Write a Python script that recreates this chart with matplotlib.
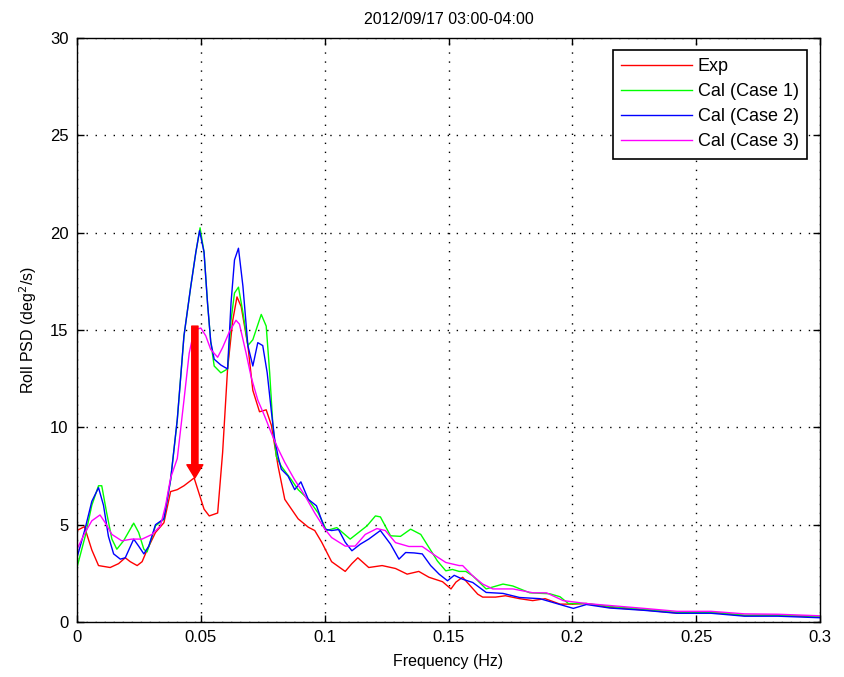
import matplotlib
matplotlib.use("Agg")
import matplotlib.pyplot as plt

# ---------------- data ----------------
f_exp = [0, 0.003, 0.006, 0.0087, 0.0134, 0.0168, 0.0195, 0.0215, 0.0243, 0.0263, 0.0283, 0.0317,
         0.0351, 0.0378, 0.0405, 0.0432, 0.0473, 0.0513, 0.0534, 0.0568, 0.0588, 0.0608, 0.0629,
         0.0646, 0.0663, 0.069, 0.071, 0.0737, 0.0764, 0.0785, 0.0812, 0.0839, 0.0893, 0.0934,
         0.096, 0.0988, 0.1028, 0.1083, 0.111, 0.1134, 0.1178, 0.1232, 0.1286, 0.1333, 0.138,
         0.1421, 0.1476, 0.151, 0.153, 0.1557, 0.1618, 0.1638, 0.169, 0.173, 0.1787, 0.184, 0.189,
         0.195, 0.2004, 0.2057, 0.215, 0.229, 0.2423, 0.256, 0.2695, 0.283, 0.3]
psd_exp = [4.7, 4.9, 3.7, 2.9, 2.8, 3.0, 3.3, 3.1, 2.9, 3.1, 3.7, 4.6,
           5.1, 6.7, 6.8, 7.0, 7.4, 5.8, 5.45, 5.6, 8.7, 13.0, 15.5,
           16.7, 16.2, 14.2, 11.9, 10.8, 10.9, 10.1, 8.0, 6.3, 5.3, 4.87,
           4.7, 4.1, 3.1, 2.6, 3.0, 3.3, 2.8, 2.9, 2.75, 2.46, 2.6,
           2.3, 2.07, 1.7, 2.05, 2.3, 1.43, 1.28, 1.28, 1.35, 1.2, 1.1, 1.2,
           0.92, 0.92, 0.95, 0.75, 0.62, 0.46, 0.5, 0.33, 0.35, 0.25]

f_c1 = [0, 0.0033, 0.006, 0.0087, 0.01, 0.012, 0.0141, 0.0161, 0.0188, 0.0229, 0.0249, 0.027,
        0.0283, 0.0317, 0.0351, 0.0378, 0.0405, 0.0432, 0.0459, 0.048, 0.0497, 0.0513, 0.0527,
        0.054, 0.0554, 0.0581, 0.0608, 0.0622, 0.0636, 0.0652, 0.067, 0.069, 0.071, 0.0744,
        0.0764, 0.0778, 0.0791, 0.0805, 0.0825, 0.0866, 0.0893, 0.0934, 0.0974, 0.1008, 0.1049,
        0.1103, 0.1137, 0.1171, 0.1205, 0.1225, 0.1266, 0.1306, 0.1347, 0.1388, 0.1421, 0.1455,
        0.1489, 0.1516, 0.1543, 0.157, 0.1598, 0.1652, 0.172, 0.176, 0.1828, 0.1909, 0.195,
        0.1984, 0.2057, 0.215, 0.229, 0.2423, 0.256, 0.2695, 0.283, 0.3]
psd_c1 = [2.8, 4.4, 6.0, 7.0, 7.0, 5.6, 4.26, 3.74, 4.17, 5.08, 4.6, 3.74,
          3.6, 4.94, 5.28, 7.3, 10.4, 14.7, 17.2, 19.0, 20.25, 19.0, 16.4,
          14.4, 13.15, 12.8, 13.0, 15.5, 16.9, 17.2, 15.9, 14.2, 14.5, 15.8,
          15.2, 12.8, 10.1, 8.5, 8.0, 7.3, 6.8, 6.3, 5.6, 4.7, 4.85,
          4.26, 4.6, 4.94, 5.45, 5.4, 4.43, 4.4, 4.77, 4.5, 3.83, 3.14,
          2.63, 2.7, 2.6, 2.6, 2.37, 1.7, 1.95, 1.85, 1.5, 1.45, 1.3,
          0.95, 0.95, 0.8, 0.65, 0.5, 0.5, 0.35, 0.35, 0.28]

f_c2 = [0, 0.0033, 0.006, 0.0087, 0.0107, 0.0127, 0.0148, 0.0175, 0.0195, 0.0229, 0.0249, 0.027,
        0.029, 0.0317, 0.0351, 0.0378, 0.0405, 0.0432, 0.0459, 0.048, 0.0495, 0.0513, 0.0527,
        0.054, 0.0554, 0.0581, 0.0608, 0.0622, 0.0636, 0.0652, 0.067, 0.069, 0.071, 0.073,
        0.075, 0.0768, 0.0785, 0.0798, 0.0812, 0.0825, 0.0852, 0.0879, 0.0904, 0.0934, 0.0967,
        0.1001, 0.1028, 0.1056, 0.1083, 0.111, 0.1144, 0.1178, 0.1225, 0.1266, 0.13, 0.1327,
        0.1361, 0.1394, 0.1428, 0.1462, 0.1496, 0.1523, 0.1557, 0.1598, 0.1652, 0.172, 0.1787,
        0.1869, 0.1923, 0.2004, 0.2057, 0.215, 0.229, 0.2423, 0.256, 0.2695, 0.283, 0.3]
psd_c2 = [3.3, 4.8, 6.2, 6.9, 6.0, 4.4, 3.5, 3.23, 3.3, 4.26, 3.9, 3.5,
          3.9, 5.0, 5.3, 7.3, 10.4, 14.7, 17.2, 19.0, 20.1, 19.0, 16.4,
          14.4, 13.5, 13.2, 13.0, 16.4, 18.6, 19.2, 17.25, 14.2, 13.15, 14.35,
          14.2, 12.8, 10.8, 9.4, 8.5, 7.85, 7.5, 6.8, 7.2, 6.3, 5.97,
          4.77, 4.7, 4.75, 4.1, 3.66, 4.0, 4.26, 4.7, 4.0, 3.23, 3.57,
          3.55, 3.5, 2.9, 2.46, 2.12, 2.4, 2.2, 2.03, 1.52, 1.47, 1.26,
          1.2, 1.0, 0.7, 0.9, 0.72, 0.6, 0.45, 0.45, 0.3, 0.3, 0.22]

f_c3 = [0, 0.0033, 0.006, 0.0093, 0.0114, 0.0141, 0.0181, 0.0222, 0.0263, 0.0303, 0.0337, 0.0358,
        0.0378, 0.0405, 0.0432, 0.0453, 0.0473, 0.05, 0.052, 0.054, 0.0568, 0.0588, 0.0615,
        0.0642, 0.0656, 0.0683, 0.0703, 0.073, 0.0757, 0.0785, 0.0812, 0.0839, 0.0879, 0.092,
        0.096, 0.1001, 0.1028, 0.1083, 0.1123, 0.1164, 0.1211, 0.1245, 0.1286, 0.134, 0.1394,
        0.1448, 0.1489, 0.1543, 0.1557, 0.1598, 0.1638, 0.1679, 0.176, 0.1841, 0.1896, 0.1963,
        0.2057, 0.215, 0.229, 0.2423, 0.256, 0.2695, 0.283, 0.3]
psd_c3 = [3.74, 4.6, 5.2, 5.5, 5.1, 4.5, 4.17, 4.26, 4.26, 4.5, 4.94, 6.0,
          7.4, 8.4, 11.4, 13.8, 15.0, 15.1, 14.7, 14.0, 13.6, 14.1, 14.9,
          15.5, 15.3, 13.8, 12.6, 11.4, 10.6, 9.7, 8.9, 8.2, 7.3, 6.5,
          5.6, 4.77, 4.34, 3.9, 3.9, 4.5, 4.8, 4.7, 4.08, 3.88, 3.88,
          3.4, 3.06, 2.9, 2.9, 2.37, 1.95, 1.7, 1.7, 1.5, 1.5, 1.1,
          0.95, 0.85, 0.7, 0.55, 0.55, 0.42, 0.4, 0.32]

series_labels = ["Exp", "Cal (Case 1)", "Cal (Case 2)", "Cal (Case 3)"]
series_colors = ["#ff0000", "#00ff00", "#0000ff", "#ff00ff"]

x_ticks = [0, 0.05, 0.1, 0.15, 0.2, 0.25, 0.3]
x_tick_labels = ["0", "0.05", "0.1", "0.15", "0.2", "0.25", "0.3"]
y_ticks = [0, 5, 10, 15, 20, 25, 30]

arrow_f = 0.0476
arrow_from = 15.2
arrow_to = 7.4

title = "2012/09/17 03:00-04:00"

# ---------------- plot ----------------
plt.rcParams['font.family'] = ['Liberation Sans', 'DejaVu Sans']
fig = plt.figure(figsize=(8.44, 6.77), dpi=100)
ax = fig.add_axes([0.0912, 0.0812, 0.8804, 0.8627])

for fx, py, lab, col in zip([f_exp, f_c1, f_c2, f_c3],
                            [psd_exp, psd_c1, psd_c2, psd_c3],
                            series_labels, series_colors):
    ax.plot(fx, py, color=col, lw=1.0, label=lab)

ann = ax.annotate('', xy=(arrow_f, arrow_to), xytext=(arrow_f, arrow_from),
                  arrowprops=dict(arrowstyle='simple,head_length=0.95,head_width=1.15,tail_width=0.45',
                                  color='#ff0000', shrinkA=0, shrinkB=0),
                  annotation_clip=False)
ann.arrow_patch.set_mutation_scale(14)

ax.set_xlim(0, 0.3)
ax.set_ylim(0, 30)
ax.set_xticks(x_ticks)
ax.set_xticklabels(x_tick_labels)
ax.set_yticks(y_ticks)
ax.tick_params(direction='in', top=True, right=True, length=5, width=1,
               labelsize=12, colors='black', pad=6)
ax.grid(True, linestyle=(0, (1, 5.5)), color='black', linewidth=1.0)
for sp in ax.spines.values():
    sp.set_linewidth(1.0)
    sp.set_color('black')

ax.set_title(title, fontsize=11.5, pad=10)
ax.set_xlabel("Frequency (Hz)", fontsize=11.5, labelpad=6)
ax.set_ylabel("Roll PSD (deg$^2$/s)", fontsize=11.5, labelpad=8)

leg = ax.legend(loc='upper right', bbox_to_anchor=(0.9825, 0.9795), borderaxespad=0,
                fontsize=13, handlelength=3.9, handletextpad=0.35, labelspacing=0.45,
                fancybox=False, framealpha=1, edgecolor='black', borderpad=0.45)
leg.get_frame().set_linewidth(1.2)

fig.savefig("out.png", dpi=100)
